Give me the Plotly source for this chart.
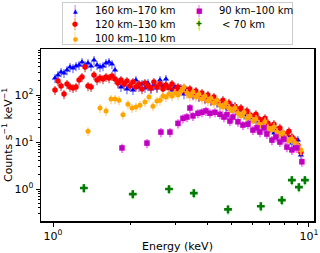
import plotly.graph_objects as go

# ---------------- data ----------------
energy_grid = [1.018, 1.046, 1.075, 1.104, 1.134, 1.165, 1.197, 1.230, 1.264, 1.298,
               1.334, 1.370, 1.408, 1.446, 1.486, 1.526, 1.568, 1.611, 1.655, 1.700,
               1.747, 1.794, 1.843, 1.894, 1.945, 1.999, 2.053, 2.109, 2.167, 2.227,
               2.287, 2.350, 2.414, 2.480, 2.548, 2.618, 2.690, 2.763, 2.839, 2.917,
               2.997, 3.079, 3.162, 3.249, 3.338, 3.429, 3.523, 3.619, 3.718, 3.820,
               3.925, 4.032, 4.143, 4.256, 4.372, 4.492, 4.615, 4.741, 4.870, 5.004,
               5.141, 5.281, 5.426, 5.574, 5.727, 5.883, 6.044, 6.209, 6.379, 6.554,
               6.733, 6.917, 7.106, 7.301, 7.499, 7.704, 7.915, 8.131, 8.354, 8.582,
               8.817, 9.057, 9.306]

counts_160_170 = [230, 267, 308, 294, 340, 394, 375, 414, 435, 504,
                  435, 480, 414, 556, 435, 394, 414, 480, 504, 457,
                  340, 189, 148, 163, 134, 155, 128, 208, 148, 171,
                  141, 180, 134, 163, 141, 208, 155, 219, 141, 128,
                  148, 122, 141, 105, 128, 110, 100, 116, 91, 100,
                  82, 95, 75, 82, 68, 61, 71, 56, 50, 58,
                  46, 41, 48, 38, 34, 29, 32, 27, 23, 25,
                  21, 17, 20, 15.5, 13.4, 14.8, 12.2, 11.0, 12.8, 9.5,
                  8.2, 11.0, 5.3]

counts_120_130 = [128, 199, 155, 105, 171, 148, 141, 148, 208, 242,
                  394, 155, 148, 267, 208, 230, 219, 242, 230, 254,
                  219, 180, 208, 171, 199, 155, 189, 148, 171, 134,
                  180, 155, 141, 189, 148, 171, 134, 163, 141, 171,
                  128, 148, 122, 141, 110, 134, 105, 122, 95, 110,
                  86, 100, 78, 91, 75, 64, 78, 61, 68, 53,
                  58, 48, 53, 43, 46, 38, 34, 39, 31, 28,
                  32, 25, 21, 24, 18, 20, 15.5, 14.1, 17, 12.8,
                  11.0, 8.6, 6.1]

energy_100_110 = [1.370, 1.526, 1.611, 1.685, 1.747, 1.810, 1.877, 1.963, 2.035, 2.109,
                  2.187, 2.287, 2.371, 2.458, 2.548, 2.618, 2.690, 2.763, 2.839, 2.917,
                  2.997, 3.079, 3.162, 3.249, 3.338, 3.429, 3.523, 3.619, 3.718, 3.820,
                  3.925, 4.032, 4.143, 4.256, 4.372, 4.492, 4.615, 4.741, 4.870, 5.004,
                  5.141, 5.281, 5.426, 5.574, 5.727, 5.883, 6.044, 6.209, 6.379, 6.554,
                  6.733, 6.917, 7.106, 7.301, 7.499, 7.704, 7.915, 8.131, 8.354, 8.582,
                  8.817, 9.057, 9.306]
counts_100_110 = [17, 53, 46, 82, 82, 78, 38, 64, 53, 56,
                  61, 71, 91, 58, 75, 78, 95, 91, 105, 95,
                  110, 100, 122, 148, 110, 95, 116, 91, 105, 82,
                  95, 75, 86, 68, 78, 61, 56, 68, 53, 46,
                  53, 41, 36, 43, 32, 36, 28, 31, 24, 22,
                  27, 20, 18, 21, 16.3, 14.1, 15.5, 12.2, 10.5, 11.6,
                  9.5, 8.2, 6.8]

energy_90_100 = [1.860, 2.329, 2.641, 2.864, 3.079, 3.220, 3.338, 3.429, 3.523, 3.685,
                 3.820, 3.960, 4.105, 4.294, 4.492, 4.656, 4.784, 4.914, 5.048, 5.281,
                 5.524, 5.778, 6.044, 6.265, 6.437, 6.672, 6.855, 7.171, 7.433, 7.704,
                 7.986, 8.207, 8.582, 8.976, 9.391]
counts_90_100 = [7.5, 9.5, 16.3, 16.3, 25, 32, 34, 53, 36, 41,
                 43, 46, 41, 43, 39, 34, 38, 28, 34, 27,
                 23, 24, 18, 20, 16.3, 20, 14.8, 11.0, 12.8, 10,
                 11.6, 7.8, 6.8, 7.5, 3.8]

energy_below_70 = [1.32, 2.05, 2.84, 3.55, 4.83, 6.49, 7.84, 8.58, 9.14, 9.65]
counts_below_70 = [1.05, 0.78, 1.0, 0.82, 0.37, 0.43, 0.58, 1.55, 1.1, 1.55]

labels = ["160 km\u2013170 km", "120 km\u2013130 km", "100 km\u2013110 km",
          "90 km\u2013100 km", "< 70 km"]
x_ticks = [1, 10]
x_ticktext = ["10<sup>0</sup>", "10<sup>1</sup>"]
y_ticks = [1, 10, 100]
y_ticktext = ["10<sup>0</sup>", "10<sup>1</sup>", "10<sup>2</sup>"]
x_minor = [2, 3, 4, 5, 6, 7, 8, 9]
y_minor = [0.3, 0.4, 0.5, 0.6, 0.7, 0.8, 0.9,
           2, 3, 4, 5, 6, 7, 8, 9,
           20, 30, 40, 50, 60, 70, 80, 90,
           200, 300, 400, 500, 600, 700, 800, 900]

# ---------------- styles ----------------
W, H = 320, 253
ML, MR, MT, MB = 41, 6, 49, 32
PW, PH = W - ML - MR, H - MT - MB


def px_x(px):
    return (px - ML) / PW


def px_y(py):
    return (H - MB - py) / PH


series = [
    dict(x=energy_grid, y=counts_160_170, name=labels[0], sym="triangle-up", col="#0000ff",
         ecol="rgba(100,100,255,0.65)", size=5.5, glyph="\u25b2", gsize=6),
    dict(x=energy_grid, y=counts_120_130, name=labels[1], sym="circle", col="#ff0000",
         ecol="rgba(200,50,50,0.6)", size=5.5, glyph="\u25cf", gsize=7),
    dict(x=energy_100_110, y=counts_100_110, name=labels[2], sym="circle", col="#ffa500",
         ecol="rgba(255,205,130,0.75)", size=5, glyph="\u25cf", gsize=6),
    dict(x=energy_90_100, y=counts_90_100, name=labels[3], sym="square", col="#c000c0",
         ecol="rgba(255,70,255,0.8)", size=5.5, glyph="\u25a0", gsize=7),
    dict(x=energy_below_70, y=counts_below_70, name=labels[4], sym="cross", col="#007a00",
         ecol="rgba(70,240,70,0.9)", size=6.5, glyph="\u271a", gsize=7),
]

# legend slot positions (pixels): column-major, like the reference
legend_slots = [(75, 92.7, 10.7), (75, 92.7, 24.3), (75, 92.7, 38.3),
                (199, 217.3, 10.7), (199, 219.5, 24.3)]

fig = go.Figure()
for s in series:
    fig.add_trace(go.Scatter(
        x=s["x"], y=s["y"], mode="markers", name=s["name"], showlegend=False,
        hoverinfo="skip",
        marker=dict(symbol=s["sym"], color=s["col"], size=s["size"], line=dict(width=0)),
        error_y=dict(type="percent", value=22, color=s["ecol"], thickness=1.7, width=0),
    ))

# legend frame (an empty bordered annotation box)
annotations = [dict(x=px_x((62 + 293) / 2), y=px_y((2 + 45) / 2), xref="paper", yref="paper",
                    text=" ", showarrow=False, xanchor="center", yanchor="middle",
                    width=229, height=41, bordercolor="#cccccc", borderwidth=1,
                    borderpad=0, bgcolor="rgba(255,255,255,0.8)")]
for s, (mx, tx, ty) in zip(series, legend_slots):
    annotations.append(dict(x=px_x(mx), y=px_y(ty), xref="paper", yref="paper",
                            text="|", showarrow=False, xanchor="center", yanchor="middle",
                            font=dict(size=12, color=s["ecol"], family="DejaVu Sans")))
    annotations.append(dict(x=px_x(mx), y=px_y(ty), xref="paper", yref="paper",
                            text=s["glyph"], showarrow=False, xanchor="center", yanchor="middle",
                            font=dict(size=s["gsize"], color=s["col"], family="DejaVu Sans")))
    annotations.append(dict(x=px_x(tx), y=px_y(ty), xref="paper", yref="paper",
                            text=s["name"], showarrow=False, xanchor="left", yanchor="middle",
                            font=dict(size=10, color="black", family="DejaVu Sans")))

axis_common = dict(
    type="log", showline=True, linecolor="black", linewidth=1.5, mirror=True,
    ticks="outside", ticklen=4, tickwidth=1, tickcolor="black",
    showgrid=False, zeroline=False, automargin=False,
    tickfont=dict(family="DejaVu Sans", size=11, color="black"),
)

fig.update_layout(
    width=W, height=H,
    margin=dict(l=ML, r=MR, t=MT, b=MB),
    paper_bgcolor="white", plot_bgcolor="white",
    font=dict(family="DejaVu Sans", size=11, color="black"),
    showlegend=False,
    hovermode=False,
    annotations=annotations,
    xaxis=dict(axis_common, range=[-0.047, 1.02], tickmode="array",
               tickvals=x_ticks, ticktext=x_ticktext,
               minor=dict(tickmode="array", tickvals=x_minor, ticks="outside",
                          ticklen=2, tickcolor="black"),
               title=dict(text="Energy (keV)", font=dict(size=11), standoff=0)),
    yaxis=dict(axis_common, range=[-0.68, 2.98], tickmode="array",
               tickvals=y_ticks, ticktext=y_ticktext,
               minor=dict(tickmode="array", tickvals=y_minor, ticks="outside",
                          ticklen=2, tickcolor="black"),
               title=dict(text="Counts s<sup>\u22121</sup> keV<sup>\u22121</sup>",
                          font=dict(size=11), standoff=0)),
)

fig.write_html("out.html", config={"displayModeBar": False, "staticPlot": True},
               post_script="document.body.style.margin='0';document.body.style.padding='0';")
